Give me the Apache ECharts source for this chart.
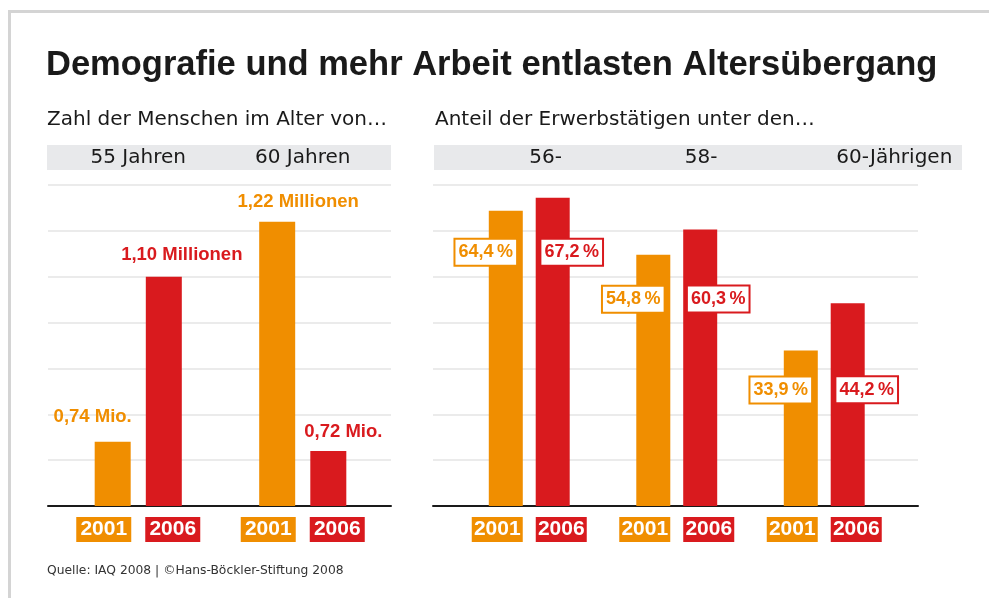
<!DOCTYPE html>
<html>
<head>
<meta charset="utf-8">
<script src="https://cdn.jsdelivr.net/npm/echarts@6/dist/echarts.min.js"></script>
<style>
  html, body { margin: 0; padding: 0; background: #fff; }
  #main { width: 989px; height: 598px; }
</style>
</head>
<body>
<div id="main"></div>
<script>
// data
var years = ['2001', '2006']
var ageGroups = ['55 Jahren', '60 Jahren']
var people2001 = [0.74, 1.22]          // Millionen
var people2006 = [1.10, 0.72]
var unit2001 = ['Mio.', 'Millionen']
var unit2006 = ['Millionen', 'Mio.']
var shareGroups = ['56-', '58-', '60-Jährigen']
var share2001 = [64.4, 54.8, 33.9]      // Prozent
var share2006 = [67.2, 60.3, 44.2]
var peopleAxis = { min: 0.6, max: 1.3, interval: 0.1 }
var shareAxis = { min: 0, max: 70, interval: 10 }

// label nudges (layout only)
var peopleOffset2001 = [[-20, -6], [21, -1]]
var peopleOffset2006 = [[18, -3], [15, -1]]
var shareOffset2001 = [[-20, 29], [-20, 32], [-20, 27]]
var shareOffset2006 = [[19, 42], [18, 57], [19, 74]]

var ORANGE = '#F08E00'
var RED = '#D91A1E'
var INK = '#1a1a1a'
var FONT = "'Liberation Sans', Arial, sans-serif"
var FONT_TEXT = "'DejaVu Sans', 'Liberation Sans', sans-serif"

function de(v, d) {
  return v.toFixed(d).replace('.', ',')
}

function withOffsets(values, offsets) {
  return values.map(function (v, i) {
    return { value: v, label: { offset: offsets[i] } }
  })
}

function yearLabels(w, gap) {
  var box = function (c) {
    return {
      backgroundColor: c, color: '#fff', fontSize: 21, fontWeight: 'bold',
      width: w, height: 25, lineHeight: 25, align: 'center', fontFamily: FONT
    }
  }
  return {
    interval: 0,
    margin: 11,
    formatter: function () {
      return '{o|' + years[0] + '}{g|}{r|' + years[1] + '}'
    },
    rich: { o: box(ORANGE), r: box(RED), g: { width: gap } }
  }
}

var hidden = { show: false }
var chart = echarts.init(document.getElementById('main'))

var gridY = function (g, ax) {
  return {
    gridIndex: g, type: 'value', min: ax.min, max: ax.max, interval: ax.interval,
    axisLine: hidden, axisTick: hidden, axisLabel: hidden,
    splitLine: { show: true, lineStyle: { color: '#e4e4e4', width: 1.5 } }
  }
}
var barY = function (g, ax) {
  return {
    gridIndex: g, type: 'value', min: ax.min, max: ax.max, interval: ax.interval,
    axisLine: hidden, axisTick: hidden, axisLabel: hidden, splitLine: hidden
  }
}
var baseX = function (g) {
  return {
    gridIndex: g, type: 'value', min: 0, max: 1,
    axisLine: { show: true, lineStyle: { color: INK, width: 2 } },
    axisTick: hidden, axisLabel: hidden, splitLine: hidden
  }
}

var option = {
  animation: false,
  backgroundColor: '#fff',
  textStyle: { fontFamily: FONT },
  title: [
    {
      text: 'Demografie und mehr Arbeit entlasten Altersübergang',
      left: 46, top: 48, padding: 0,
      textStyle: { fontSize: 34.5, fontWeight: 'bold', color: INK, fontFamily: FONT }
    },
    {
      text: 'Zahl der Menschen im Alter von…',
      left: 47, top: 110, padding: 0,
      textStyle: { fontSize: 20, fontWeight: 'normal', color: INK, fontFamily: FONT_TEXT }
    },
    {
      text: 'Anteil der Erwerbstätigen unter den…',
      left: 435, top: 110, padding: 0,
      textStyle: { fontSize: 20, fontWeight: 'normal', color: INK, fontFamily: FONT_TEXT }
    },
    {
      text: 'Quelle: IAQ 2008 | ©Hans-Böckler-Stiftung 2008',
      left: 47, top: 565, padding: 0,
      textStyle: { fontSize: 12.3, fontWeight: 'normal', color: '#333', fontFamily: FONT_TEXT }
    }
  ],
  graphic: [
    { type: 'rect', z: -10, shape: { x: 8, y: 10, width: 981, height: 3 }, style: { fill: '#d4d4d4' } },
    { type: 'rect', z: -10, shape: { x: 8, y: 10, width: 3, height: 588 }, style: { fill: '#d4d4d4' } },
    { type: 'rect', z: -10, shape: { x: 47, y: 145, width: 344, height: 25 }, style: { fill: '#e8e9eb' } },
    { type: 'rect', z: -10, shape: { x: 434, y: 145, width: 528, height: 25 }, style: { fill: '#e8e9eb' } }
  ],
  grid: [
    { left: 48, top: 185, width: 343, height: 321, containLabel: false },
    { left: 56, top: 185, width: 329, height: 321, containLabel: false },
    { left: 433, top: 185, width: 485, height: 321, containLabel: false },
    { left: 455.5, top: 185, width: 442.5, height: 321, containLabel: false }
  ],
  xAxis: [
    baseX(0),
    {
      gridIndex: 1, type: 'category', data: ageGroups,
      axisLine: hidden, axisTick: hidden, axisLabel: yearLabels(55, 14)
    },
    {
      gridIndex: 1, type: 'category', data: ageGroups, position: 'top',
      axisLine: hidden, axisTick: hidden,
      axisLabel: { interval: 0, margin: 17, fontSize: 20, color: INK, fontFamily: FONT_TEXT }
    },
    baseX(2),
    {
      gridIndex: 3, type: 'category', data: shareGroups,
      axisLine: hidden, axisTick: hidden, axisLabel: yearLabels(51, 13)
    },
    {
      gridIndex: 3, type: 'category', data: shareGroups, position: 'top',
      axisLine: hidden, axisTick: hidden,
      axisLabel: {
        interval: 0, margin: 17, align: 'left',
        formatter: function (v, i) { return '{p' + i + '|' + v + '}' },
        rich: {
          p0: { fontSize: 20, color: INK, fontFamily: FONT_TEXT, padding: [0, 0, 0, 0] },
          p1: { fontSize: 20, color: INK, fontFamily: FONT_TEXT, padding: [0, 0, 0, 8] },
          p2: { fontSize: 20, color: INK, fontFamily: FONT_TEXT, padding: [0, 0, 0, 12] }
        }
      }
    }
  ],
  yAxis: [
    gridY(0, peopleAxis),
    barY(1, peopleAxis),
    gridY(2, shareAxis),
    barY(3, shareAxis)
  ],
  series: [
    {
      name: years[0], type: 'bar', xAxisIndex: 1, yAxisIndex: 1,
      barWidth: 36, barGap: '42%',
      itemStyle: { color: ORANGE },
      label: {
        show: true, position: 'top', distance: 9, color: ORANGE,
        fontSize: 18.5, fontWeight: 'bold',
        formatter: function (p) { return de(p.value, 2) + ' ' + unit2001[p.dataIndex] }
      },
      data: withOffsets(people2001, peopleOffset2001)
    },
    {
      name: years[1], type: 'bar', xAxisIndex: 1, yAxisIndex: 1,
      barWidth: 36, barGap: '42%',
      itemStyle: { color: RED },
      label: {
        show: true, position: 'top', distance: 9, color: RED,
        fontSize: 18.5, fontWeight: 'bold',
        formatter: function (p) { return de(p.value, 2) + ' ' + unit2006[p.dataIndex] }
      },
      data: withOffsets(people2006, peopleOffset2006)
    },
    {
      name: years[0], type: 'bar', xAxisIndex: 4, yAxisIndex: 3,
      barWidth: 34, barGap: '38%',
      itemStyle: { color: ORANGE },
      label: {
        show: true, position: 'insideTop', distance: 0, color: ORANGE,
        fontSize: 18, fontWeight: 'bold', lineHeight: 21,
        backgroundColor: '#fff', borderColor: ORANGE, borderWidth: 2, padding: [2, 3, 2, 3],
        formatter: function (p) { return de(p.value, 1) + '\u2009%' }
      },
      data: withOffsets(share2001, shareOffset2001)
    },
    {
      name: years[1], type: 'bar', xAxisIndex: 4, yAxisIndex: 3,
      barWidth: 34, barGap: '38%',
      itemStyle: { color: RED },
      label: {
        show: true, position: 'insideTop', distance: 0, color: RED,
        fontSize: 18, fontWeight: 'bold', lineHeight: 21,
        backgroundColor: '#fff', borderColor: RED, borderWidth: 2, padding: [2, 3, 2, 3],
        formatter: function (p) { return de(p.value, 1) + '\u2009%' }
      },
      data: withOffsets(share2006, shareOffset2006)
    }
  ]
}

chart.setOption(option)
</script>
</body>
</html>
